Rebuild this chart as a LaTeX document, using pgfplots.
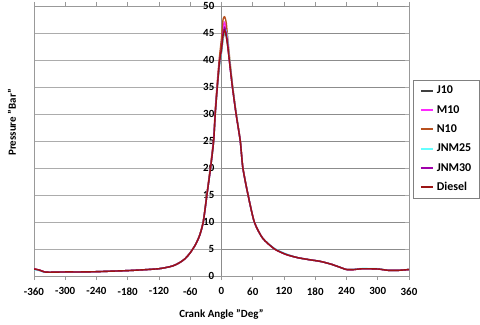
\documentclass[border=0pt]{standalone}
\usepackage{pgfplots}
\pgfplotsset{compat=1.18}
\usepackage{pgfplotstable}
\usepackage{fontspec}
\setmainfont{Carlito}
\definecolor{cJ}{RGB}{64,64,64}
\definecolor{cM}{RGB}{255,40,255}
\definecolor{cN}{RGB}{184,80,30}
\definecolor{cC}{RGB}{100,255,255}
\definecolor{cP}{RGB}{160,0,170}
\definecolor{cD}{RGB}{155,20,20}
\pgfplotstableread{
x     J10   M10   N10   JNM25  JNM30  Diesel
-360  1.3   1.3   1.3   1.2    1.3    1.3
-350  1.1   1.1   1.1   1.0    1.1    1.1
-340  0.75  0.75  0.75  0.7    0.75   0.75
-330  0.7   0.7   0.7   0.7    0.7    0.7
-300  0.75  0.75  0.75  0.75   0.75   0.75
-270  0.75  0.75  0.75  0.75   0.75   0.75
-240  0.8   0.8   0.8   0.8    0.8    0.8
-210  0.9   0.9   0.9   0.9    0.9    0.9
-180  1.0   1.0   1.0   1.0    1.0    1.0
-150  1.15  1.15  1.15  1.15   1.15   1.15
-120  1.35  1.35  1.35  1.35   1.35   1.35
-100  1.7   1.7   1.7   1.7    1.7    1.7
-90   2.0   2.0   2.0   2.0    2.0    2.0
-80   2.5   2.5   2.5   2.5    2.5    2.5
-70   3.2   3.2   3.2   3.2    3.2    3.2
-60   4.3   4.3   4.3   4.3    4.3    4.3
-50   5.8   5.8   5.8   5.8    5.8    5.8
-42   7.5   7.5   7.6   7.5    7.5    7.5
-35   10    10    10.2  10     10     10
-28   15    15    15.3  15     15     15
-21   20    20.2  20.5  20     20     20
-15   25    25.3  25.6  25     25.2   25
-12   30    30.3  30.8  30     30.2   30
-8    35    35.5  36    35     35.2   35
-4    39    40    40.5  39     39.5   39.5
0     41.5  43    44    41.5   42     42
3     44    46    47.5  44     45     44.5
6     45    47    48    45.3   46     45.5
9     44.5  45.5  47    45.5   45     44.5
12    42.5  43    44    43.5   43     42.5
15    40    40    41    40.5   40     40
21    35    35    35.5  35.3   35     35
28    30    30    30.3  30.2   30     30
36    25    25    25.2  25     25     25
41    20    20    20.2  20     20     20
51    15    15    15    15     15     15
63    10    10    10    10     10     10
79    7     7     7     7      7      7
102   5     5     5     5.1    5      5
124   4     4     4     4.1    4      4
146   3.4   3.4   3.4   3.4    3.4    3.4
170   3.0   3.0   3.0   3.0    3.0    3.0
190   2.7   2.7   2.7   2.7    2.7    2.7
210   2.2   2.2   2.2   2.2    2.2    2.2
225   1.7   1.7   1.7   1.7    1.7    1.7
240   1.2   1.2   1.2   1.2    1.2    1.2
255   1.2   1.2   1.2   1.25   1.2    1.2
270   1.35  1.35  1.35  1.4    1.35   1.35
300   1.3   1.3   1.3   1.35   1.3    1.3
320   1.05  1.05  1.05  1.05   1.05   1.05
340   1.05  1.05  1.05  1.05   1.05   1.05
360   1.2   1.2   1.2   1.2    1.2    1.2
}\datatable
\begin{document}
\begin{tikzpicture}
\useasboundingbox (-34bp,-49bp) rectangle (446bp,276bp);
\begin{axis}[
  scale only axis, width=375bp, height=270bp,
  xmin=-360, xmax=360, ymin=0, ymax=50,
  xtick={-360,-300,...,360}, ytick={0,5,...,50},
  axis line style={gray!80, line width=0.8bp},
  ymajorgrids, major grid style={gray!65, line width=0.8bp},
  tick align=outside, major tick length=4bp,
  ytick style={draw=none},
  xtick style={gray!80, line width=0.8bp},
  /pgf/number format/assume math mode=true,
  ticklabel style={font=\bfseries\fontsize{11}{13}\selectfont},
  yticklabel style={anchor=east, inner sep=0pt, xshift=184.5bp},
  xticklabel style={yshift=-4bp},
  xlabel={Crank Angle "Deg"}, ylabel={Pressure "Bar"},
  label style={font=\bfseries\fontsize{11}{13}\selectfont},
  xlabel style={at={(axis description cs:0.5,-0.1407)}, anchor=center},
  ylabel style={at={(axis description cs:-0.0587,0.569)}, anchor=center},
  legend style={at={(axis description cs:1.011,0.507)}, anchor=west, draw=gray,
    font=\bfseries\fontsize{12}{14}\selectfont, row sep=5.3bp,
    inner xsep=6.5bp, inner ysep=4bp,
    nodes={text height=8.5bp, text depth=2.5bp, inner sep=1.5bp},
    /tikz/every odd column/.append style={column sep=1.5bp}},
  legend cell align=left,
  legend image code/.code={\draw[#1, line width=2bp] (0bp,0bp) -- (12bp,0bp);},
  every axis plot/.append style={line width=1.4bp, smooth, tension=0.4},
]
\draw[gray!90, line width=0.8bp] (axis cs:0,0) -- (axis cs:0,50);
\pgfplotsinvokeforeach{0,5,...,50}{\draw[gray!90, line width=0.8bp] (axis cs:0,#1) -- ++(-4bp,0);}
\addplot[cJ] table[x=x, y=J10] {\datatable};
\addplot[cM] table[x=x, y=M10] {\datatable};
\addplot[cN] table[x=x, y=N10] {\datatable};
\addplot[cC] table[x=x, y=JNM25] {\datatable};
\addplot[cP] table[x=x, y=JNM30] {\datatable};
\addplot[cD] table[x=x, y=Diesel] {\datatable};
\legend{J10, M10, N10, JNM25, JNM30, Diesel}
\end{axis}
\end{tikzpicture}
\end{document}
